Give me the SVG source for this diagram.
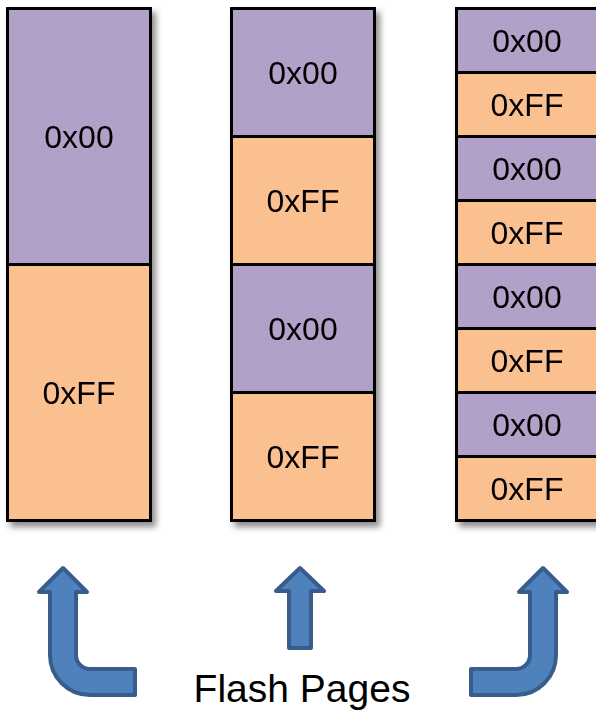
<svg xmlns="http://www.w3.org/2000/svg" width="596" height="713" viewBox="0 0 596 713">
<style>
.p{fill:#b1a0c7;stroke:#000;stroke-width:3}
.o{fill:#fac090;stroke:#000;stroke-width:3}
.t{font-family:"Liberation Sans",Arial,sans-serif;font-size:32px;fill:#000;text-anchor:middle}
.a{fill:#4f81bd;stroke:#385d8a;stroke-width:4;stroke-linejoin:round}
.lbl{font-family:"Liberation Sans",Arial,sans-serif;font-size:39px;fill:#000;text-anchor:middle}
</style>
<defs>
<filter id="sh" x="-10%" y="-5%" width="130%" height="115%">
<feDropShadow dx="4" dy="5" stdDeviation="3" flood-color="#000" flood-opacity="0.45"/>
</filter>
</defs>
<g id="col1" filter="url(#sh)">
<rect class="p" x="7.5" y="8.5" width="143" height="256"/>
<rect class="o" x="7.5" y="264.5" width="143" height="256"/>
<text class="t" x="79" y="148">0x00</text>
<text class="t" x="79" y="404">0xFF</text>
</g>
<g id="col2" filter="url(#sh)">
<rect class="p" x="231.5" y="8.5" width="143" height="128"/>
<rect class="o" x="231.5" y="136.5" width="143" height="128"/>
<rect class="p" x="231.5" y="264.5" width="143" height="128"/>
<rect class="o" x="231.5" y="392.5" width="143" height="128"/>
<text class="t" x="303" y="84">0x00</text>
<text class="t" x="303" y="212">0xFF</text>
<text class="t" x="303" y="340">0x00</text>
<text class="t" x="303" y="468">0xFF</text>
</g>
<g id="col3" filter="url(#sh)">
<rect class="p" x="456.5" y="8.5" width="143" height="64"/>
<rect class="o" x="456.5" y="72.5" width="143" height="64"/>
<rect class="p" x="456.5" y="136.5" width="143" height="64"/>
<rect class="o" x="456.5" y="200.5" width="143" height="64"/>
<rect class="p" x="456.5" y="264.5" width="143" height="64"/>
<rect class="o" x="456.5" y="328.5" width="143" height="64"/>
<rect class="p" x="456.5" y="392.5" width="143" height="64"/>
<rect class="o" x="456.5" y="456.5" width="143" height="64"/>
<text class="t" x="527" y="52">0x00</text>
<text class="t" x="527" y="116">0xFF</text>
<text class="t" x="527" y="180">0x00</text>
<text class="t" x="527" y="244">0xFF</text>
<text class="t" x="527" y="308">0x00</text>
<text class="t" x="527" y="372">0xFF</text>
<text class="t" x="527" y="436">0x00</text>
<text class="t" x="527" y="500">0xFF</text>
</g>
<g id="arrows">
<path class="a" d="M63,568 L87,592 L76,592 L76,655 A14,14 0 0 0 90,669 L135,669 L135,695 L90,695 A40,40 0 0 1 50,655 L50,592 L39,592 Z"/>
<path class="a" d="M300,568 L324,591 L311,591 L311,648 L289,648 L289,591 L276,591 Z"/>
<path class="a" d="M543,568 L567,592 L556,592 L556,655 A40,40 0 0 1 516,695 L471,695 L471,669 L516,669 A14,14 0 0 0 530,655 L530,592 L519,592 Z"/>
</g>
<text id="label" class="lbl" x="302" y="702">Flash Pages</text>
</svg>
